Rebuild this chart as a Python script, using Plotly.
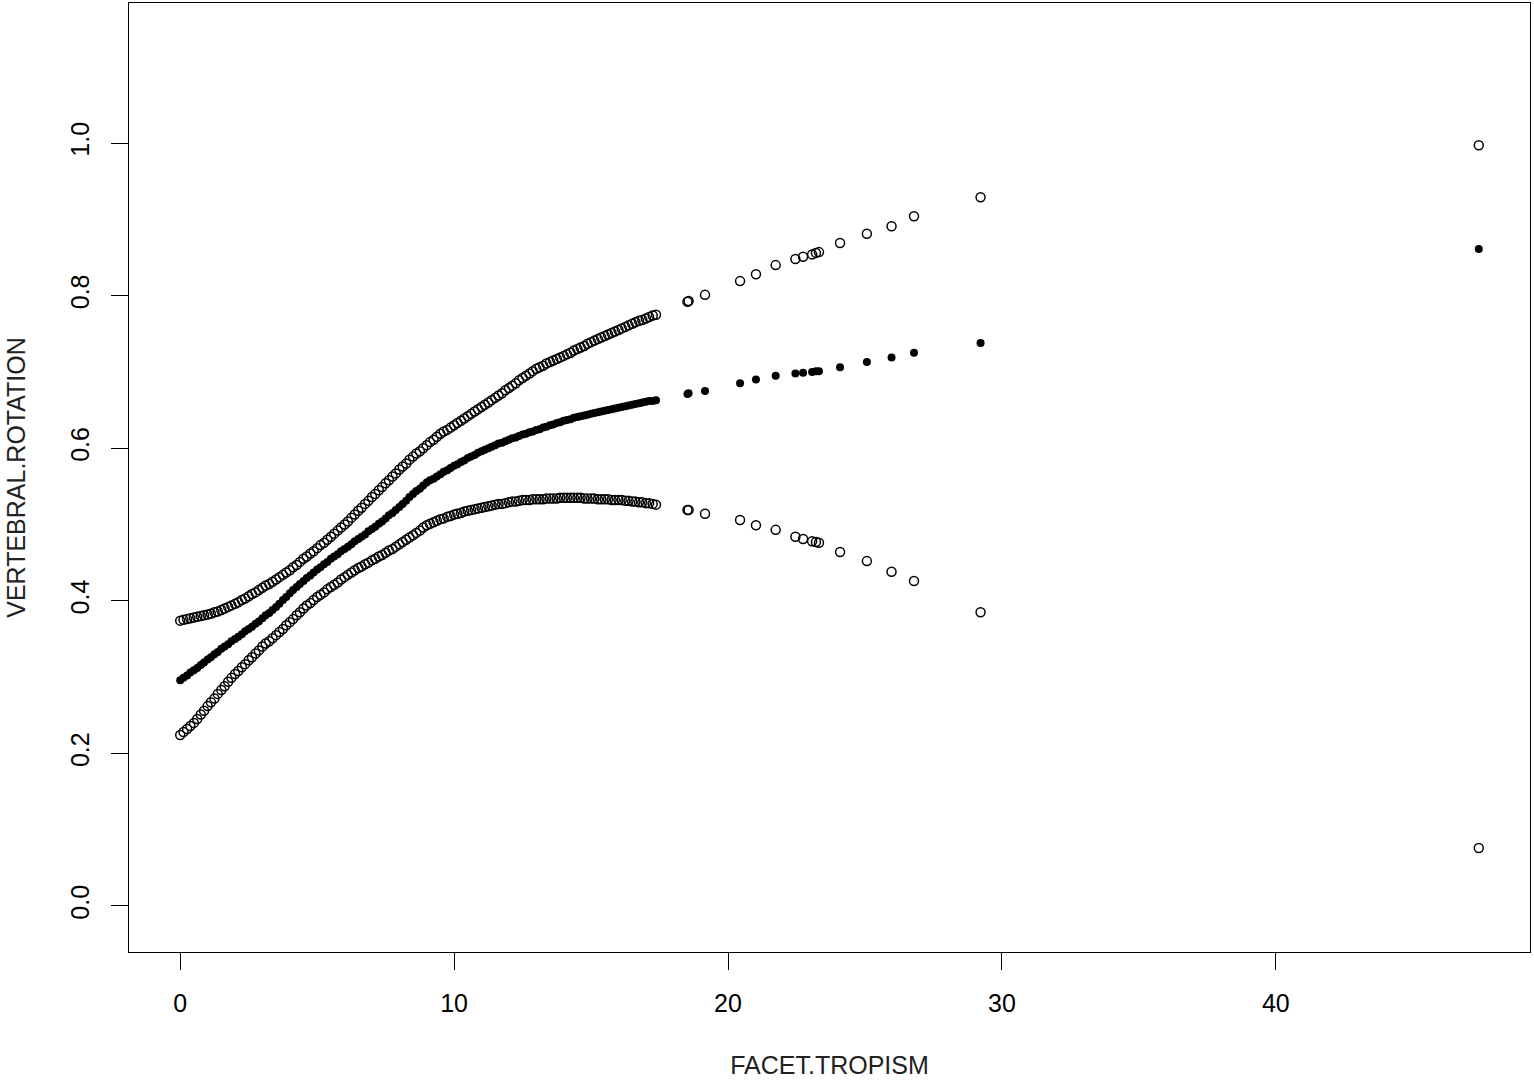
"""Fitted vertebral rotation vs facet tropism, with upper / lower bands
    (R base-graphics style scatter, redone in plotly)
"""
import plotly.graph_objs as go

# facet tropism values (x)
facet_tropism = [
    0.00, 0.12, 0.25, 0.37, 0.50, 0.62, 0.75, 0.87, 1.00, 1.12,
    1.25, 1.37, 1.50, 1.62, 1.75, 1.87, 2.00, 2.12, 2.25, 2.37,
    2.50, 2.62, 2.75, 2.87, 3.00, 3.12, 3.25, 3.37, 3.50, 3.62,
    3.75, 3.87, 4.00, 4.12, 4.25, 4.37, 4.50, 4.62, 4.75, 4.87,
    5.00, 5.12, 5.25, 5.37, 5.50, 5.62, 5.75, 5.87, 6.00, 6.12,
    6.25, 6.37, 6.50, 6.62, 6.75, 6.87, 7.00, 7.12, 7.25, 7.37,
    7.50, 7.62, 7.75, 7.87, 8.00, 8.12, 8.25, 8.37, 8.50, 8.62,
    8.75, 8.87, 9.00, 9.12, 9.25, 9.37, 9.50, 9.62, 9.75, 9.87,
    10.00, 10.12, 10.25, 10.37, 10.50, 10.62, 10.75, 10.87, 11.00, 11.12,
    11.25, 11.37, 11.50, 11.62, 11.75, 11.87, 12.00, 12.12, 12.25, 12.37,
    12.50, 12.62, 12.75, 12.87, 13.00, 13.12, 13.25, 13.37, 13.50, 13.62,
    13.75, 13.87, 14.00, 14.12, 14.25, 14.37, 14.50, 14.62, 14.75, 14.87,
    15.00, 15.12, 15.25, 15.37, 15.50, 15.62, 15.75, 15.87, 16.00, 16.12,
    16.25, 16.37, 16.50, 16.62, 16.75, 16.87, 17.00, 17.12, 17.25, 17.37,
    18.52, 18.56, 19.16, 20.44, 21.02, 21.74, 22.46, 22.74, 23.07, 23.21,
    23.32, 24.09, 25.07, 25.97, 26.79, 29.22, 47.41,
]

# upper band (open circles)
rotation_upper = [
    0.374, 0.375, 0.376, 0.377, 0.378, 0.379, 0.380, 0.381, 0.382, 0.383,
    0.385, 0.386, 0.388, 0.390, 0.392, 0.394, 0.396, 0.398, 0.401, 0.403,
    0.406, 0.409, 0.411, 0.414, 0.417, 0.420, 0.422, 0.425, 0.428, 0.431,
    0.434, 0.437, 0.440, 0.444, 0.447, 0.451, 0.455, 0.458, 0.462, 0.465,
    0.469, 0.473, 0.476, 0.480, 0.484, 0.488, 0.492, 0.496, 0.500, 0.504,
    0.509, 0.513, 0.518, 0.522, 0.527, 0.531, 0.536, 0.540, 0.545, 0.549,
    0.554, 0.558, 0.563, 0.567, 0.572, 0.576, 0.580, 0.585, 0.589, 0.593,
    0.596, 0.600, 0.604, 0.608, 0.611, 0.615, 0.619, 0.622, 0.624, 0.627,
    0.630, 0.633, 0.636, 0.639, 0.642, 0.645, 0.648, 0.651, 0.654, 0.657,
    0.660, 0.663, 0.666, 0.669, 0.672, 0.676, 0.679, 0.682, 0.685, 0.689,
    0.692, 0.695, 0.698, 0.701, 0.704, 0.706, 0.708, 0.711, 0.713, 0.715,
    0.717, 0.719, 0.721, 0.723, 0.725, 0.728, 0.730, 0.732, 0.734, 0.737,
    0.739, 0.741, 0.743, 0.745, 0.747, 0.749, 0.751, 0.753, 0.755, 0.757,
    0.759, 0.761, 0.763, 0.765, 0.767, 0.768, 0.770, 0.772, 0.774, 0.775,
    0.792, 0.793, 0.801, 0.819, 0.828, 0.840, 0.848, 0.851, 0.854, 0.856,
    0.857, 0.869, 0.881, 0.891, 0.904, 0.929, 0.997,
]

# fitted values (filled dots)
rotation_fit = [
    0.296, 0.299, 0.302, 0.306, 0.309, 0.312, 0.316, 0.319, 0.323, 0.326,
    0.330, 0.333, 0.337, 0.340, 0.343, 0.347, 0.350, 0.353, 0.356, 0.360,
    0.363, 0.366, 0.370, 0.373, 0.377, 0.381, 0.384, 0.388, 0.392, 0.396,
    0.401, 0.405, 0.410, 0.414, 0.418, 0.422, 0.426, 0.430, 0.433, 0.437,
    0.441, 0.444, 0.448, 0.451, 0.455, 0.458, 0.461, 0.465, 0.468, 0.471,
    0.474, 0.478, 0.481, 0.484, 0.487, 0.491, 0.494, 0.497, 0.501, 0.504,
    0.508, 0.512, 0.515, 0.519, 0.523, 0.527, 0.531, 0.536, 0.540, 0.544,
    0.547, 0.551, 0.555, 0.558, 0.560, 0.563, 0.566, 0.569, 0.571, 0.574,
    0.577, 0.579, 0.582, 0.584, 0.587, 0.589, 0.591, 0.594, 0.596, 0.598,
    0.600, 0.602, 0.604, 0.606, 0.607, 0.609, 0.611, 0.613, 0.614, 0.616,
    0.618, 0.619, 0.621, 0.622, 0.624, 0.625, 0.627, 0.628, 0.630, 0.631,
    0.633, 0.634, 0.636, 0.637, 0.638, 0.640, 0.641, 0.642, 0.643, 0.644,
    0.645, 0.646, 0.647, 0.648, 0.649, 0.650, 0.651, 0.652, 0.653, 0.654,
    0.655, 0.656, 0.657, 0.658, 0.659, 0.660, 0.661, 0.662, 0.662, 0.663,
    0.671, 0.672, 0.675, 0.685, 0.690, 0.695, 0.698, 0.699, 0.700, 0.701,
    0.701, 0.706, 0.713, 0.719, 0.725, 0.738, 0.861,
]

# lower band (open circles)
rotation_lower = [
    0.224, 0.228, 0.232, 0.236, 0.240, 0.245, 0.251, 0.256, 0.262, 0.267,
    0.272, 0.278, 0.283, 0.288, 0.294, 0.299, 0.304, 0.308, 0.313, 0.317,
    0.322, 0.326, 0.331, 0.335, 0.340, 0.344, 0.347, 0.351, 0.355, 0.359,
    0.363, 0.368, 0.372, 0.376, 0.381, 0.385, 0.390, 0.394, 0.397, 0.401,
    0.405, 0.408, 0.411, 0.415, 0.418, 0.421, 0.424, 0.428, 0.431, 0.434,
    0.437, 0.440, 0.443, 0.445, 0.448, 0.450, 0.453, 0.455, 0.458, 0.460,
    0.463, 0.466, 0.468, 0.471, 0.474, 0.477, 0.480, 0.483, 0.486, 0.489,
    0.492, 0.496, 0.499, 0.501, 0.503, 0.505, 0.507, 0.508, 0.510, 0.511,
    0.513, 0.514, 0.515, 0.517, 0.518, 0.519, 0.520, 0.521, 0.522, 0.523,
    0.524, 0.525, 0.526, 0.527, 0.527, 0.528, 0.529, 0.530, 0.530, 0.531,
    0.532, 0.532, 0.532, 0.533, 0.533, 0.533, 0.533, 0.534, 0.534, 0.534,
    0.534, 0.535, 0.535, 0.535, 0.535, 0.535, 0.535, 0.535, 0.534, 0.534,
    0.534, 0.534, 0.533, 0.533, 0.533, 0.533, 0.532, 0.532, 0.532, 0.532,
    0.531, 0.531, 0.530, 0.530, 0.529, 0.529, 0.528, 0.528, 0.527, 0.526,
    0.519, 0.519, 0.514, 0.506, 0.499, 0.493, 0.484, 0.481, 0.478, 0.477,
    0.476, 0.464, 0.452, 0.438, 0.426, 0.385, 0.076,
]

x_ticks = [0, 10, 20, 30, 40]
y_ticks = [0.0, 0.2, 0.4, 0.6, 0.8, 1.0]

FONT = 'Liberation Sans, Arial, sans-serif'

open_marker = dict(symbol='circle-open', size=9, color='black',
                   line=dict(width=1.5, color='black'))

# create scatter objects
data = [
    go.Scatter(x=facet_tropism, y=rotation_upper, mode='markers',
               marker=open_marker, name='upper'),
    go.Scatter(x=facet_tropism, y=rotation_fit, mode='markers',
               marker=dict(symbol='circle', size=8, color='black'),
               name='fit'),
    go.Scatter(x=facet_tropism, y=rotation_lower, mode='markers',
               marker=open_marker, name='lower'),
]

# create layout
layout = go.Layout(
    width=1534, height=1080,
    margin=dict(l=129, r=4, t=3, b=128),
    paper_bgcolor='white',
    plot_bgcolor='white',
    showlegend=False,
    font=dict(family=FONT, size=25, color='black'),

    xaxis=dict(
        range=[-1.87, 49.28],
        tickvals=x_ticks,
        ticks='outside', ticklen=17, tickwidth=1, tickcolor='black',
        ticklabelstandoff=12,
        showline=True, mirror=True, linecolor='black', linewidth=1,
        showgrid=False, zeroline=False,
        title=dict(text='FACET.TROPISM', standoff=40,
                   font=dict(family=FONT, size=25, color='#222222')),
    ),

    yaxis=dict(
        range=[-0.0603, 1.1835],
        tickvals=y_ticks,
        tickformat='.1f',
        tickangle=-90,
        ticks='outside', ticklen=17, tickwidth=1, tickcolor='black',
        ticklabelstandoff=12,
        showline=True, mirror=True, linecolor='black', linewidth=1,
        showgrid=False, zeroline=False,
        title=dict(text='VERTEBRAL.ROTATION', standoff=33,
                   font=dict(family=FONT, size=25, color='#222222')),
    ),
)

fig = go.Figure(data=data, layout=layout)

# output (drop the page's default body margin so the figure sits at 0,0)
fig.write_html('out.html', config={'displayModeBar': False},
               post_script="document.body.style.margin='0px';")
